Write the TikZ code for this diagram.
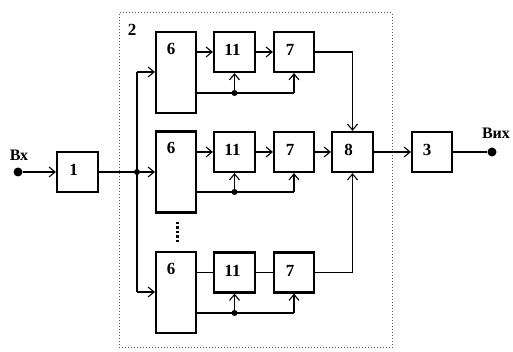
\documentclass[tikz,border=0pt]{standalone}
\usepackage{fontspec}
\setmainfont{Liberation Serif}
\usetikzlibrary{arrows.meta,calc}
\begin{document}
\begin{tikzpicture}[x=1pt,y=1pt,
  blk/.style={draw,line width=2.2pt,inner sep=0pt,minimum width=#1},
  blk/.default=41pt,
  lab/.style={font=\fontsize{17}{17}\selectfont\bfseries},
  conn/.style={line width=1.1pt},
  arr/.style={conn,-{Straight Barb[length=6pt,width=10pt,line width=1.1pt]}},
  dotp/.style={circle,fill,inner sep=0pt,minimum size=6pt},
  bigdot/.style={circle,fill,inner sep=0pt,minimum size=9pt}]
\useasboundingbox (0,0) rectangle (513,352);
% frame
\draw[dotted,line width=1pt,gray!70!black] (119,4) rectangle (392,339);
\node[lab] (n2) at (132,322) {2};
% input
\node[bigdot] (in) at (18,180) {};
\node[lab,font=\fontsize{16}{16}\selectfont\bfseries] (lin) at (19,197) {Вх};
\node[blk,minimum height=40pt] (b1) at (77.5,180) {};
\node[lab] at ([shift={(-4,2)}]b1.center) {1};
\draw[arr] (in) -- (b1);
\node[dotp] (bus) at (137,180) {};
\coordinate (bt) at (137,280);
\coordinate (bb) at (137,60);
\draw[conn] (b1) -- (bus);
\draw[conn] (bt) -- (bb);
% row boxes
\foreach \r/\yc in {a/279.5,b/180,c/59.5}{
  \node[blk=40pt,minimum height=81pt] (s\r) at (176,\yc) {};
  \node[lab] at ([shift={(-5,-18)}]s\r.north) {6};
}
\coordinate (v1) at (177,130);
\coordinate (v2) at (177,108);
\draw[line width=3pt,dash pattern=on 2.5pt off 2pt] (v1) -- (v2);
\foreach \r/\yc in {a/300,b/200,c/79.5}{
  \node[blk,minimum height=40pt] (e\r) at (234.5,\yc) {};
  \node[lab] at ([shift={(-2,2)}]e\r.center) {11};
  \node[blk=40pt,minimum height=40pt] (f\r) at (294,\yc) {};
  \node[lab] at ([shift={(-4,2)}]f\r.center) {7};
}
\node[blk,minimum height=40pt] (g) at (352.5,200) {};
\node[lab] at ([shift={(-4,2)}]g.center) {8};
\node[blk=40pt,minimum height=40pt] (h) at (432,200) {};
\node[lab] at ([shift={(-5,2)}]h.center) {3};
\node[bigdot] (out) at (492,200) {};
\node[lab,font=\fontsize{16}{16}\selectfont\bfseries] (lout) at (496,219) {Вих};
% inputs to 6
\draw[arr] (bt) -- (bt -| sa.west);
\draw[arr] (bus) -- (sb.west);
\draw[arr] (bb) -- (bb -| sc.west);
% chains
\draw[arr] (ea.west -| sa.east) -- (ea.west);
\draw[arr] (ea) -- (fa);
\draw[arr] (eb.west -| sb.east) -- (eb.west);
\draw[arr] (eb) -- (fb);
\draw[arr] (fb) -- (g);
\draw[conn] (ec.west -| sc.east) -- (ec.west);
\draw[conn] (ec) -- (fc);
% control lines
\foreach \r/\yl in {a/259,b/160,c/39}{
  \coordinate (c\r) at (196,\yl);
  \node[dotp] (d\r) at (e\r.south |- c\r) {};
  \draw[conn] (c\r) -- (c\r -| f\r.south);
  \draw[arr] (d\r) -- (e\r.south);
  \draw[arr] (c\r -| f\r.south) -- (f\r.south);
}
% to 8
\draw[arr] (fa.east) -| (g.north);
\draw[arr] (fc.east) -| (g.south);
\draw[arr] (g) -- (h);
\draw[conn] (h) -- (out);
\end{tikzpicture}
\end{document}
